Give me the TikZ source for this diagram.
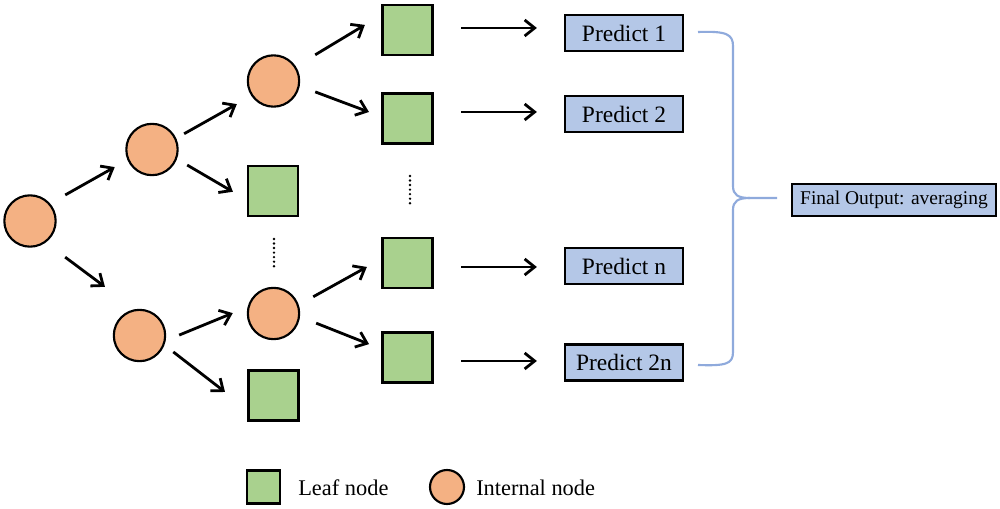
\documentclass[tikz,border=0pt]{standalone}
\usepackage{fontspec}
\setmainfont{Liberation Serif}
\usetikzlibrary{arrows.meta,calc}
\definecolor{intfill}{HTML}{F4B183}
\definecolor{leaffill}{HTML}{A9D18E}
\definecolor{predfill}{HTML}{B4C7E7}
\definecolor{bracecol}{HTML}{8FAADC}
\begin{document}
\begin{tikzpicture}[x=0.75pt,y=-0.75pt,
  internal/.style={circle,draw=black,line width=1.6pt,fill=intfill,minimum size=38.5pt,inner sep=0pt},
  leaf/.style={rectangle,draw=black,line width=1.6pt,fill=leaffill,minimum size=37.5pt,inner sep=0pt},
  predbox/.style={rectangle,draw=black,line width=1.6pt,fill=predfill,minimum width=88.5pt,minimum height=27pt,inner sep=0pt,font=\fontsize{17.6}{20}\selectfont},
  finalbox/.style={rectangle,draw=black,line width=2pt,fill=predfill,minimum width=153pt,minimum height=24pt,inner sep=0pt,font=\fontsize{14.6}{17}\selectfont},
  arr/.style={line width=2.1pt,-{Straight Barb[length=7.5pt,width=12pt]}},
  moredots/.style={line width=2pt,line cap=round,dash pattern=on 0pt off 3.4pt},
  brace/.style={draw=bracecol,line width=1.6pt},
  legendtext/.style={anchor=base west,inner sep=0pt,font=\fontsize{16.8}{20}\selectfont}]

\useasboundingbox (0,0) rectangle (1000,509);

% tree nodes
\node[internal] (c0) at (30,221) {};
\node[internal] (c1) at (152,149.5) {};
\node[internal] (c2) at (273.5,81) {};
\node[internal] (c3) at (139.5,335.5) {};
\node[internal] (c4) at (273.5,313.5) {};
\node[leaf] (s1) at (273,191) {};
\node[leaf] (s5) at (273.5,395.5) {};
\node[leaf] (st) at (407.5,30) {};
\node[leaf] (s2) at (407.5,118.5) {};
\node[leaf] (s3) at (407.5,263) {};
\node[leaf] (s4) at (407.5,357.5) {};

% predictions
\node[predbox] (p1) at (624,33) {Predict 1};
\node[predbox] (p2) at (624,114) {Predict 2};
\node[predbox] (pn) at (624,266) {Predict n};
\node[predbox] (p2n) at (624,362.5) {Predict 2n};
\node[finalbox] (fo) at (894,200) {Final Output: averaging};

% tree edges
\draw[arr,shorten <=13pt,shorten >=10.9pt] (c0.41) -- (c1.203);
\draw[arr,shorten <=18.2pt,shorten >=28pt] (c0.-54) -- (c3.100);
\draw[arr,shorten <=6.8pt,shorten >=12.5pt] (c1.25) -- (c2.214);
\draw[arr,shorten <=8.9pt,shorten >=12.2pt] (c1.-21) -- (s1.199.5);
\draw[arr,shorten <=16.9pt,shorten >=14.5pt] (c2.33) -- (st.150);
\draw[arr,shorten <=12.4pt,shorten >=10pt] (c2.-11.5) -- (s2.176);
\draw[arr,shorten <=10.9pt,shorten >=12pt] (c3.-11) -- (c4.166);
\draw[arr,shorten <=8.4pt,shorten >=21.3pt] (c3.-21) -- (s5.208);
\draw[arr,shorten <=12.4pt,shorten >=12.5pt] (c4.19) -- (s3.171);
\draw[arr,shorten <=13pt,shorten >=10pt] (c4.-7) -- (s4.162);

% leaves to predictions
\draw[arr,shorten <=20.6pt,shorten >=20.3pt] ([yshift=1.5pt]st.east) -- ([yshift=1.5pt]st.east -| p1.west);
\draw[arr,shorten <=20.6pt,shorten >=20.3pt] ([yshift=4.9pt]s2.east) -- ([yshift=4.9pt]s2.east -| p2.west);
\draw[arr,shorten <=20.6pt,shorten >=20.3pt] ([yshift=-3pt]s3.east) -- ([yshift=-3pt]s3.east -| pn.west);
\draw[arr,shorten <=20.6pt,shorten >=20.3pt] ([yshift=-2.6pt]s4.east) -- ([yshift=-2.6pt]s4.east -| p2n.west);

% elided branches
\draw[moredots] (274,239) -- (274,270);
\draw[moredots] (410,176) -- (410,206);

% brace collecting the predictions
\coordinate (bt) at (698,32);
\coordinate (bb) at (698,365);
\coordinate (btip) at (750,198);
\coordinate (bend) at (777,198);
\draw[brace] (bt) .. controls (726,31) and (733,34) .. (733,46) -- (733,186)
  .. controls (733,195) and (738,198) .. (btip) -- (bend);
\draw[brace] (btip) .. controls (738,198) and (733,201) .. (733,210) -- (733,352)
  .. controls (733,364) and (726,366) .. (bb);

% legend
\node[leaf,minimum size=24.75pt] (lgleaf) at (263.5,487) {};
\node[legendtext] (lgleaftext) at (298,496) {Leaf node};
\node[internal,minimum size=25.5pt] (lgint) at (447,487) {};
\node[legendtext] (lginttext) at (476,496) {Internal node};
\end{tikzpicture}
\end{document}
